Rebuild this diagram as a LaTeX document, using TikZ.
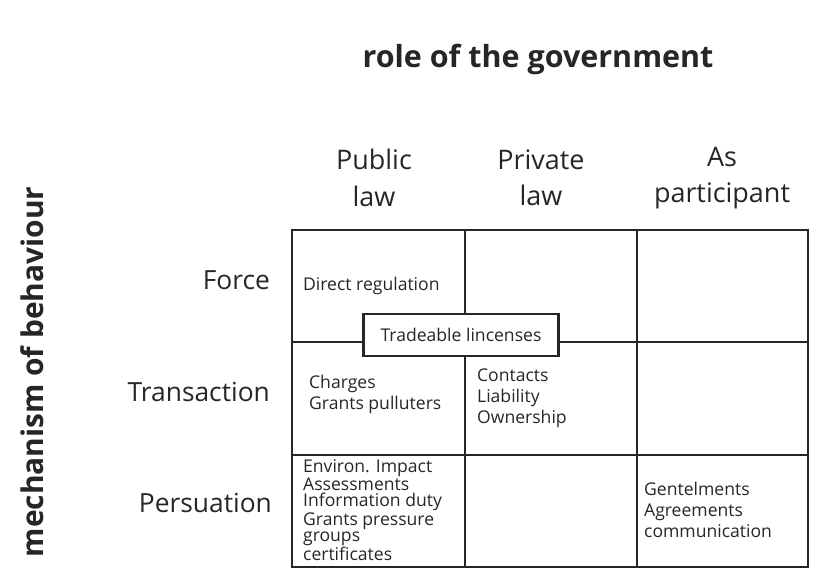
\documentclass[tikz,border=0pt]{standalone}
\usepackage{fontspec}
\setmainfont{Open Sans}
\begin{document}
\begin{tikzpicture}[x=0.03cm,y=-0.03cm,
  grid/.style={line width=1.8pt,draw=black!85},
  cell/.style={anchor=west,font=\fontsize{15}{17}\selectfont,text=black!85},
  head/.style={font=\fontsize{23}{28}\selectfont,text=black!85,align=center},
  rowl/.style={anchor=east,font=\fontsize{22.5}{26}\selectfont,text=black!85}]
\useasboundingbox (0,0) rectangle (820,583);
\node[font=\bfseries\fontsize{26}{30}\selectfont,text=black!85] (title) at (538,60) {role of the government};
\node[font=\bfseries\fontsize{25.5}{30}\selectfont,text=black!85,rotate=90] (mech) at (32,372) {mechanism of behaviour};
\node[head] (h1) at (374,178) {Public\\[3pt]law};
\node[head] (h2) at (541,178) {Private\\[3pt]law};
\node[head] (h3) at (722,178) {As\\[3pt]participant};
\node[rowl] (r1) at (274,280) {Force};
\node[rowl] (r2) at (274,392) {Transaction};
\node[rowl] (r3) at (276,503) {Persuation};
\draw[grid] (292,230) rectangle (808,567);
\draw[grid] (465,230) -- (465,567) (637,230) -- (637,567)
  (292,342) -- (808,342) (292,455) -- (808,455);
\node[cell] (c11) at (299,286) {Direct regulation};
\node[draw=black!85,line width=1.8pt,fill=white,minimum width=5.85cm,minimum height=1.26cm,font=\fontsize{15}{17}\selectfont,text=black!85] (trade) at (461,335) {Tradeable lincenses};
\node[cell,align=left] (c21) at (305,394) {Charges\\[1pt]Grants pulluters};
\node[cell,align=left] (c22) at (473,398) {Contacts\\[1pt]Liability\\[1pt]Ownership};
\node[cell,align=left,font=\fontsize{15}{14}\selectfont] (c31) at (299,510) {Environ. Impact\\Assessments\\Information duty\\Grants pressure\\groups\\certificates};
\node[cell,align=left] (c33) at (640,510) {Gentelments\\[1pt]Agreements\\[1pt]communication};
\end{tikzpicture}
\end{document}
